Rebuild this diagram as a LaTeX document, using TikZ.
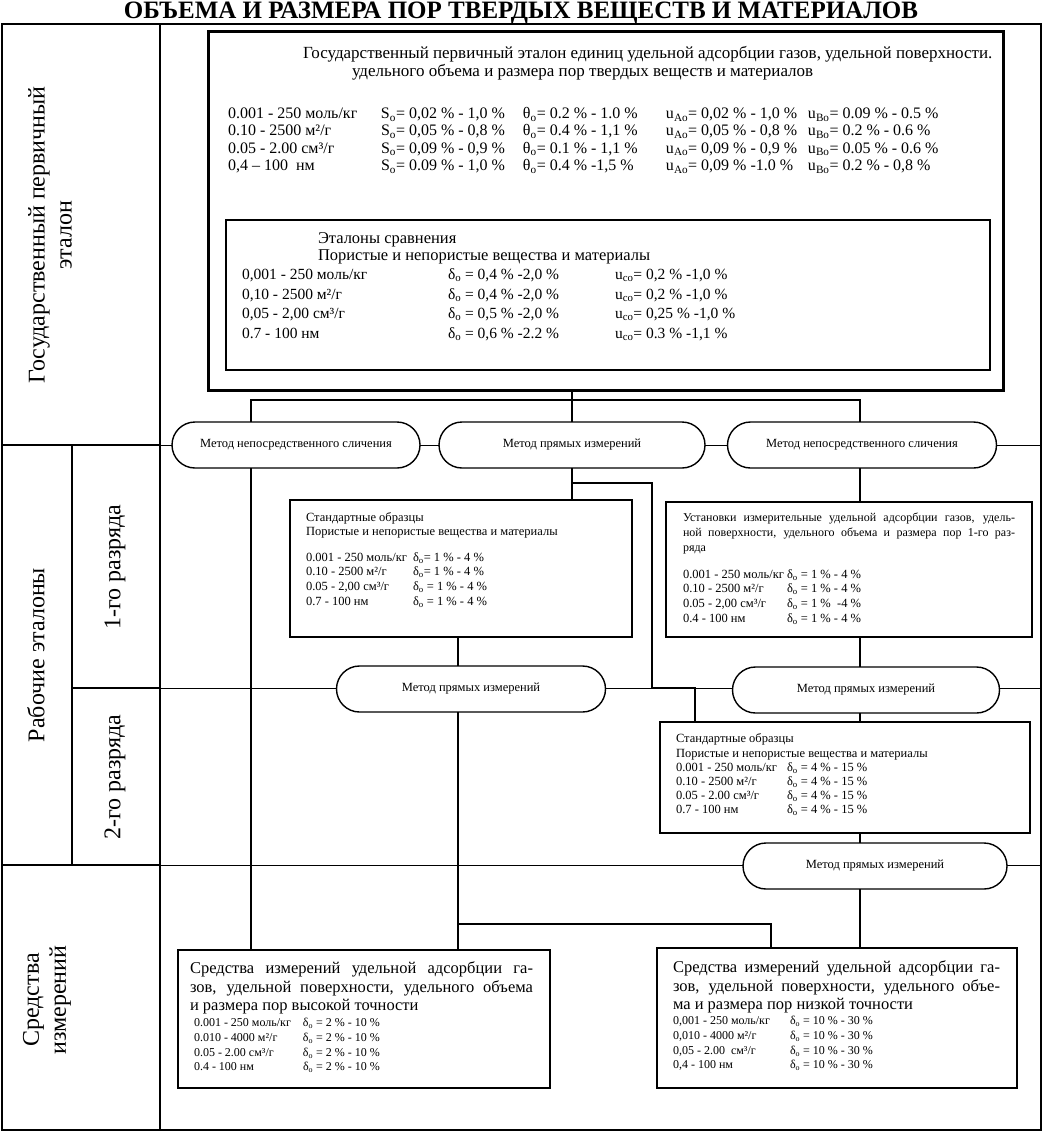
\documentclass[tikz,border=0pt]{standalone}
\usepackage{fontspec}
\setmainfont{Liberation Serif}
\usetikzlibrary{shapes.misc}
\setlength{\tabcolsep}{0pt}
\newcommand{\dsub}[1]{\textsubscript{#1}}
\newcommand{\jl}[2]{\makebox[#1][s]{#2}}
\tikzset{thin rule/.style={line width=0.8pt},
         cell rule/.style={line width=1.6pt},
         link/.style={line width=1.8pt}}
\tikzset{etalonbox/.style={draw, line width=1.5pt, fill=white, anchor=north west},
         method/.style={draw, rounded rectangle, line width=1.4pt, fill=white,
                        minimum height=46pt, font=\fontsize{12.5}{14}\selectfont},
         rowlabel/.style={rotate=90, align=center, font=\fontsize{24}{27}\selectfont},
         hd/.style={anchor=base west, font=\fontsize{16.5}{18}\selectfont},
         txt/.style={anchor=north west}}

\begin{document}
\begin{tikzpicture}[x=1pt, y=-1pt, every node/.style={inner sep=0pt, outer sep=0pt}]
    \useasboundingbox (0,0) rectangle (1043,1132);
    % table frame and rows
    \draw[cell rule] (2,24) rectangle (1041,1130);
    \draw[line width=2.6pt] (160,24) -- (160,1130);
    \draw[line width=2pt] (72,445) -- (72,865);
    \draw[cell rule] (2,445) -- (160,445);
    \draw[cell rule] (72,688) -- (160,688);
    \draw[cell rule] (2,865) -- (160,865);
    \draw[thin rule] (160,445) -- (1041,445);
    \draw[thin rule] (160,688) -- (1041,688);
    \draw[thin rule] (160,865) -- (1041,865);

    \node[font=\bfseries\fontsize{25}{28}\selectfont, anchor=base] (title) at (521,19)
      {ОБЪЕМА И РАЗМЕРА ПОР ТВЕРДЫХ ВЕЩЕСТВ И МАТЕРИАЛОВ};

    \node[rowlabel] (lab-gpe) at (50,235) {Государственный первичный\\эталон};
    \node[rowlabel] (lab-work) at (36,655) {Рабочие эталоны};
    \node[rowlabel] (lab-r1) at (115,567) {1-го разряда};
    \node[rowlabel] (lab-r2) at (115,777) {2-го разряда};
    \node[rowlabel] (lab-si) at (47,1000) {Средства\\измерений};

    % state primary standard
    \node[etalonbox, line width=3pt, minimum width=795pt, minimum height=358pt] (gpe) at (208,32) {};
    \node[hd, font=\fontsize{17}{18}\selectfont] (gpe-l1) at (303,59) {Государственный первичный эталон единиц удельной адсорбции газов, удельной поверхности.};
    \node[hd, font=\fontsize{17}{18}\selectfont] (gpe-l2) at (352,77) {удельного объема и размера пор твердых веществ и материалов};
    \node[txt, font=\fontsize{16}{17.3}\selectfont] (gpe-data) at (228,106.5) {%
      \begin{tabular}{@{}p{153pt}p{142pt}p{143pt}p{142pt}l@{}}
      0.001 - 250 моль/кг & S\dsub{o}= 0,02 \% - 1,0 \% & θ\dsub{o}= 0.2 \% - 1.0 \% & u\dsub{Ao}= 0,02 \% - 1,0 \% & u\dsub{Bo}= 0.09 \% - 0.5 \%\\
      0.10 - 2500 м²/г & S\dsub{o}= 0,05 \% - 0,8 \% & θ\dsub{o}= 0.4 \% - 1,1 \% & u\dsub{Ao}= 0,05 \% - 0,8 \% & u\dsub{Bo}= 0.2 \% - 0.6 \%\\
      0.05 - 2.00 см³/г & S\dsub{o}= 0,09 \% - 0,9 \% & θ\dsub{o}= 0.1 \% - 1,1 \% & u\dsub{Ao}= 0,09 \% - 0,9 \% & u\dsub{Bo}= 0.05 \% - 0.6 \%\\
      0,4 – 100~ нм & S\dsub{o}= 0.09 \% - 1,0 \% & θ\dsub{o}= 0.4 \% -1,5 \% & u\dsub{Ao}= 0,09 \% -1.0 \% & u\dsub{Bo}= 0.2 \% - 0,8 \%
      \end{tabular}};

    % comparison standards
    \node[etalonbox, minimum width=764pt, minimum height=150pt] (cmp) at (226,220) {};
    \node[hd] (cmp-l1) at (318,243.5) {Эталоны сравнения};
    \node[hd] (cmp-l2) at (318,260.5) {Пористые и непористые вещества и материалы};
    \node[txt, font=\fontsize{15.5}{19.5}\selectfont] (cmp-data) at (242,266) {%
      \begin{tabular}{@{}p{206pt}p{167pt}l@{}}
      0,001 - 250 моль/кг & δ\dsub{o} = 0,4 \% -2,0 \% & u\dsub{co}= 0,2 \% -1,0 \%\\
      0,10 - 2500 м²/г & δ\dsub{o} = 0,4 \% -2,0 \% & u\dsub{co}= 0,2 \% -1,0 \%\\
      0,05 - 2,00 см³/г & δ\dsub{o} = 0,5 \% -2,0 \% & u\dsub{co}= 0,25 \% -1,0 \%\\
      0.7 - 100 нм & δ\dsub{o} = 0,6 \% -2.2 \% & u\dsub{co}= 0.3 \% -1,1 \%
      \end{tabular}};

    % methods, first row
    \node[method, minimum width=248pt] (m1) at (296,445) {Метод непосредственного сличения};
    \node[method, minimum width=266pt] (m2) at (572,445) {Метод прямых измерений};
    \node[method, minimum width=269pt] (m3) at (862,445) {Метод непосредственного сличения};

    % working standards, 1st rank
    \node[etalonbox, minimum width=342pt, minimum height=137pt] (sa1) at (290,500) {};
    \node[txt, font=\fontsize{12.5}{14}\selectfont] (sa1-head) at (306,512) {%
      \begin{tabular}{@{}l@{}}Стандартные образцы\\Пористые и непористые вещества и материалы\end{tabular}};
    \node[txt, font=\fontsize{12.5}{14.7}\selectfont] (sa1-data) at (306,551) {%
      \begin{tabular}{@{}p{107pt}l@{}}
      0.001 - 250 моль/кг & δ\dsub{o}= 1 \% - 4 \%\\
      0.10 - 2500 м²/г & δ\dsub{o}= 1 \% - 4 \%\\
      0.05 - 2,00 см³/г & δ\dsub{o} = 1 \% - 4 \%\\
      0.7 - 100 нм & δ\dsub{o} = 1 \% - 4 \%
      \end{tabular}};

    \node[etalonbox, minimum width=366pt, minimum height=135pt] (ua1) at (666,502) {};
    \node[txt, font=\fontsize{12}{15}\selectfont] (ua1-head) at (683,510.5) {%
      \begin{tabular}{@{}l@{}}
      \jl{332pt}{Установки измерительные удельной адсорбции газов, удель-}\\
      \jl{332pt}{ной поверхности, удельного объема и размера пор 1-го раз-}\\
      ряда
      \end{tabular}};
    \node[txt, font=\fontsize{12.5}{14.7}\selectfont] (ua1-data) at (683,568) {%
      \begin{tabular}{@{}p{104pt}l@{}}
      0.001 - 250 моль/кг & δ\dsub{o} = 1 \% - 4 \%\\
      0.10 - 2500 м²/г & δ\dsub{o} = 1 \% - 4 \%\\
      0.05 - 2,00 см³/г & δ\dsub{o} = 1 \%~ -4 \%\\
      0.4 - 100 нм & δ\dsub{o} = 1 \% - 4 \%
      \end{tabular}};

    % methods, second and third row
    \node[method, minimum width=269pt] (m4) at (471,689) {Метод прямых измерений};
    \node[method, minimum width=267pt] (m5) at (866,690) {Метод прямых измерений};
    \node[method, minimum width=264pt] (m6) at (875,866) {Метод прямых измерений};

    % working standards, 2nd rank
    \node[etalonbox, minimum width=370pt, minimum height=111pt] (sa2) at (660,722) {};
    \node[txt, font=\fontsize{12.5}{14.2}\selectfont] (sa2-data) at (676,733) {%
      \begin{tabular}{@{}p{111pt}l@{}}
      \multicolumn{2}{@{}l@{}}{Стандартные образцы}\\
      \multicolumn{2}{@{}l@{}}{Пористые и непористые вещества и материалы}\\
      0.001 - 250 моль/кг & δ\dsub{o} = 4 \% - 15 \%\\
      0.10 - 2500 м²/г & δ\dsub{o} = 4 \% - 15 \%\\
      0.05 - 2.00 см³/г & δ\dsub{o} = 4 \% - 15 \%\\
      0.7 - 100 нм & δ\dsub{o} = 4 \% - 15 \%
      \end{tabular}};

    % measuring instruments
    \node[etalonbox, minimum width=372pt, minimum height=138pt] (lo1) at (178,950) {};
    \node[txt, font=\fontsize{16.5}{18.5}\selectfont] (lo1-head) at (190,961) {%
      \begin{tabular}{@{}l@{}}
      \jl{343pt}{Средства измерений удельной адсорбции га-}\\
      \jl{343pt}{зов, удельной поверхности, удельного объема}\\
      и размера пор высокой точности
      \end{tabular}};
    \node[txt, font=\fontsize{12}{14.7}\selectfont] (lo1-data) at (194,1016.5) {%
      \begin{tabular}{@{}p{109pt}l@{}}
      0.001 - 250 моль/кг & δ\dsub{o} = 2 \% - 10 \%\\
      0.010 - 4000 м²/г & δ\dsub{o} = 2 \% - 10 \%\\
      0.05 - 2.00 см³/г & δ\dsub{o} = 2 \% - 10 \%\\
      0.4 - 100 нм & δ\dsub{o} = 2 \% - 10 \%
      \end{tabular}};

    \node[etalonbox, minimum width=360pt, minimum height=140pt] (lo2) at (657,948) {};
    \node[txt, font=\fontsize{16.5}{18.5}\selectfont] (lo2-head) at (673,960) {%
      \begin{tabular}{@{}l@{}}
      \jl{327pt}{Средства измерений удельной адсорбции га-}\\
      \jl{327pt}{зов, удельной поверхности, удельного объе-}\\
      ма и размера пор низкой точности
      \end{tabular}};
    \node[txt, font=\fontsize{12}{14.7}\selectfont] (lo2-data) at (673,1014.5) {%
      \begin{tabular}{@{}p{117pt}l@{}}
      0,001 - 250 моль/кг & δ\dsub{o} = 10 \% - 30 \%\\
      0,010 - 4000 м²/г & δ\dsub{o} = 10 \% - 30 \%\\
      0,05 - 2.00~ см³/г & δ\dsub{o} = 10 \% - 30 \%\\
      0,4 - 100 нм & δ\dsub{o} = 10 \% - 30 \%
      \end{tabular}};

    % connectors
    \coordinate (xa) at (251,0);
    \coordinate (xb) at (572,0);
    \coordinate (xc) at (860,0);
    \coordinate (xd) at (458,0);
    \coordinate (xe) at (652,0);
    \coordinate (xf) at (695,0);
    \coordinate (xg) at (771,0);
    \coordinate (bus) at (0,400);
    \coordinate (brA) at (0,483);
    \coordinate (row2) at (0,688);
    \coordinate (brB) at (0,924);
    \draw[link] (gpe.south -| xb) -- (m2.north -| xb);
    \draw[link] (m1.north -| xa) |- (bus -| xc) -- (m3.north -| xc);
    \draw[link] (m1.south -| xa) -- (lo1.north -| xa);
    \draw[link] (m2.south -| xb) -- (sa1.north -| xb);
    \draw[link] (brA -| xb) -| (row2 -| xe) -| (sa2.north -| xf);
    \draw[link] (m3.south -| xc) -- (ua1.north -| xc);
    \draw[link] (sa1.south -| xd) -- (m4.north -| xd);
    \draw[link] (ua1.south -| xc) -- (m5.north -| xc);
    \draw[link] (m4.south -| xd) -- (lo1.north -| xd);
    \draw[link] (brB -| xd) -| (lo2.north -| xg);
    \draw[link] (m5.south -| xc) -- (sa2.north -| xc);
    \draw[link] (sa2.south -| xc) -- (m6.north -| xc);
    \draw[link] (m6.south -| xc) -- (lo2.north -| xc);
\end{tikzpicture}
\end{document}
